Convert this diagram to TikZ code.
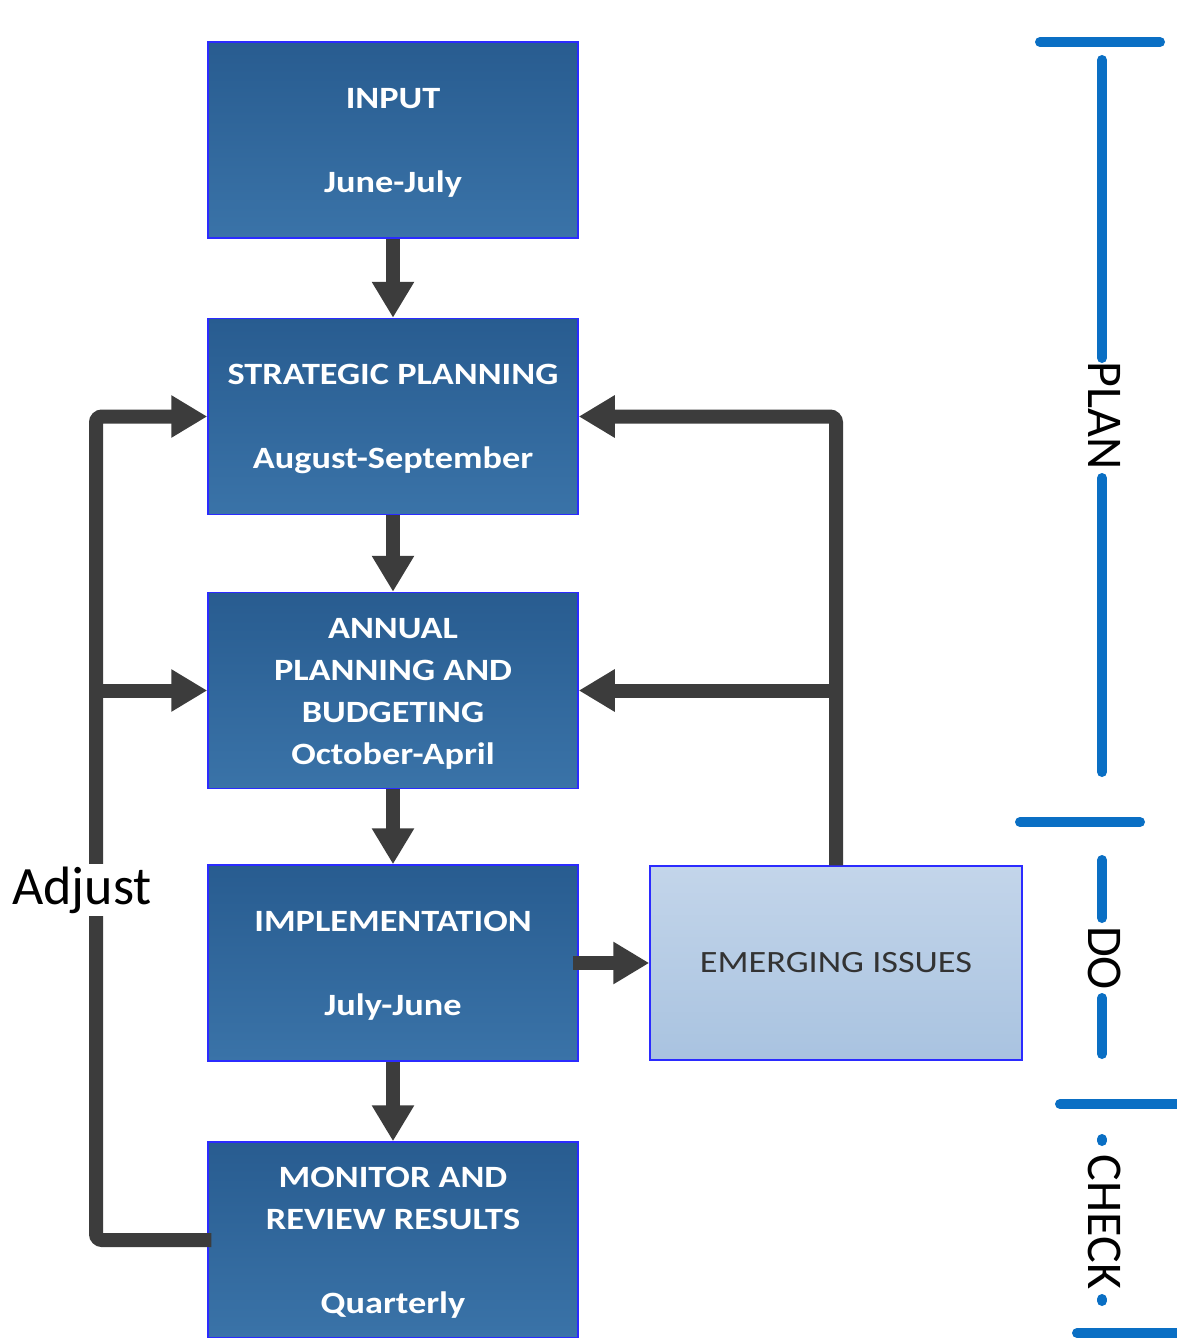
\documentclass[tikz,border=0pt]{standalone}
\usepackage{fontspec}
\setmainfont{Carlito}
\newfontfamily\boxfont[FakeStretch=1.17]{Carlito}
\usetikzlibrary{arrows.meta}
\definecolor{boxtop}{HTML}{285C90}
\definecolor{boxbot}{HTML}{3A73A8}
\definecolor{boxline}{HTML}{2B2BFF}
\definecolor{arrowgray}{HTML}{3C3C3C}
\definecolor{bracketblue}{HTML}{0A6FC4}
\definecolor{lighttop}{HTML}{C3D5EA}
\definecolor{lightbot}{HTML}{A9C3E0}
\begin{document}
\begin{tikzpicture}[x=1pt,y=-1pt,
  procbox/.style={draw=boxline, line width=1.5pt, top color=boxtop, bottom color=boxbot,
    minimum width=370pt, minimum height=196pt, inner sep=0pt, text=white, align=center,
    font=\boxfont\bfseries\fontsize{31}{42}\selectfont},
  issuebox/.style={draw=boxline, line width=1.5pt, top color=lighttop, bottom color=lightbot,
    minimum width=372pt, minimum height=194pt, inner sep=0pt, text=black!80,
    font=\boxfont\fontsize{31}{42}\selectfont},
  flow/.style={draw=arrowgray, line width=14pt, -{Triangle[width=40pt,length=36pt]}},
  brk/.style={draw=bracketblue, line width=10pt, line cap=round},
  phase/.style={rotate=-90, inner sep=0pt, font=\fontsize{50}{60}\selectfont}]
\useasboundingbox[fill=white] (0,0) rectangle (1177,1338);

% process boxes
\node[procbox] (input)   at (393,140)   {\rule{0pt}{26pt}INPUT\\[42pt]June-July};
\node[procbox] (strat)   at (393,416.5) {\rule{0pt}{26pt}STRATEGIC PLANNING\\[42pt]August-September};
\node[procbox] (annual)  at (393,690.5) {\rule{0pt}{26pt}ANNUAL\\PLANNING AND\\BUDGETING\\October-April};
\node[procbox] (impl)    at (393,963)   {\rule{0pt}{26pt}IMPLEMENTATION\\[42pt]July-June};
\node[procbox] (monitor) at (393,1240)  {\rule{0pt}{26pt}MONITOR AND\\REVIEW RESULTS\\[42pt]Quarterly};
\node[issuebox] (emerg)  at (836,963)   {EMERGING ISSUES};

% main flow
\draw[flow] (input.south) -- (strat.north);
\draw[flow] (strat.south) -- (annual.north);
\draw[flow] (annual.south) -- (impl.north);
\draw[flow] (impl.south) -- (monitor.north);
\draw[flow] ([xshift=-6pt]impl.east) -- (emerg.west);

% adjust loop
\coordinate (lx) at (96,0);
\draw[flow, rounded corners=6pt] ([xshift=4pt]monitor.west) -- (lx |- monitor.west) |- (strat.west);
\draw[flow] (lx |- annual.west) -- (annual.west);
\node[fill=white, inner sep=3pt, font=\fontsize{54}{64}\selectfont] (adjust) at (82,890) {Adjust};

% emerging issues feedback
\draw[flow, rounded corners=6pt] (emerg.north) |- (strat.east);
\draw[flow] (emerg.north |- annual.east) -- (annual.east);

% PLAN / DO / CHECK bracket
\node[phase] (plan)  at (1105,416)  {PLAN};
\node[phase] (do)    at (1105,958)  {DO};
\node[phase] (check) at (1105,1222) {CHECK};
\draw[brk] (1040,42) -- (1160,42);
\draw[brk] (1102,60) -- (1102,358);
\draw[brk] (1102,478) -- (1102,772);
\draw[brk] (1020,822) -- (1140,822);
\draw[brk] (1102,860) -- (1102,918);
\draw[brk] (1102,998) -- (1102,1054);
\draw[brk] (1060,1104) -- (1185,1104);
\draw[brk] (1102,1139) -- (1102,1141);
\draw[brk] (1102,1299) -- (1102,1301);
\draw[brk] (1077,1333) -- (1185,1333);
\end{tikzpicture}
\end{document}
